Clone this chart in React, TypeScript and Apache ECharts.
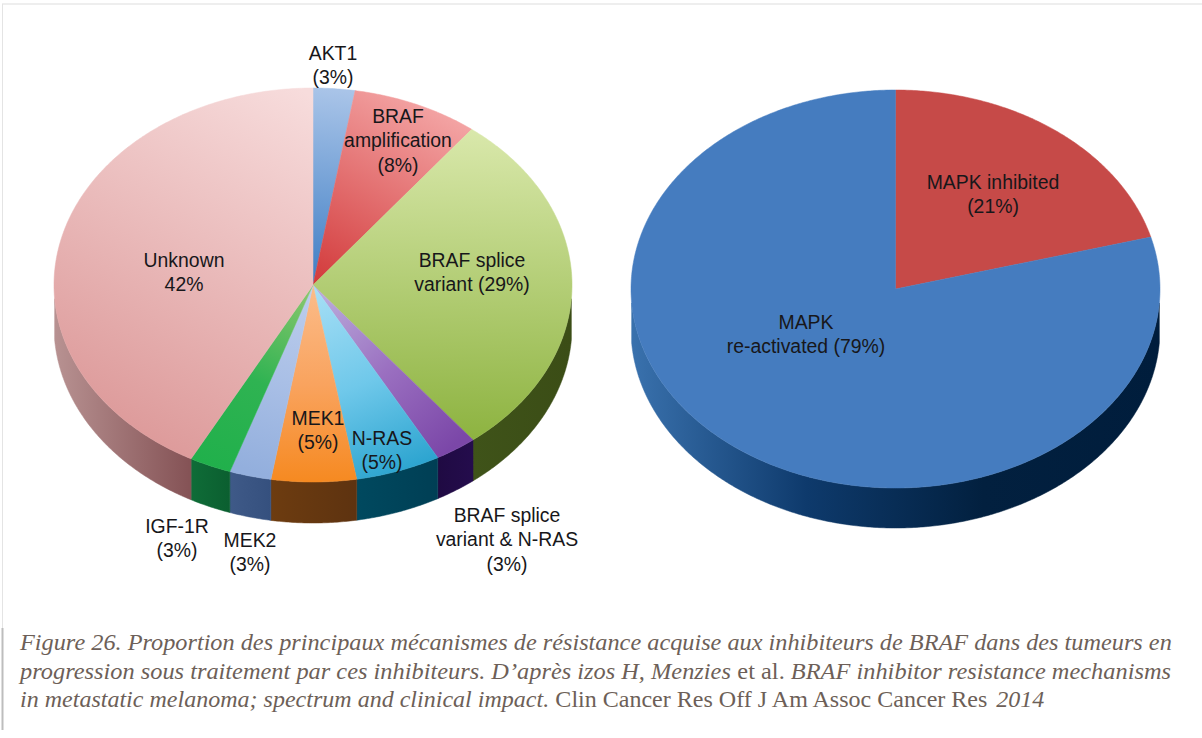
import React, { useEffect, useRef } from "react";
import * as echarts from "echarts";

const leftCategories = ["AKT1", "BRAF amplification", "BRAF splice variant", "BRAF splice variant & N-RAS", "N-RAS", "MEK1", "MEK2", "IGF-1R", "Unknown"];
const leftValues = [2.6, 7.9, 28.9, 2.6, 5.3, 5.3, 2.6, 2.6, 42.2];
const leftLabels = ["AKT1\n(3%)", "BRAF\namplification\n(8%)", "BRAF splice\nvariant (29%)", "BRAF splice\nvariant & N-RAS\n(3%)", "N-RAS\n(5%)", "MEK1\n(5%)", "MEK2\n(3%)", "IGF-1R\n(3%)", "Unknown\n42%"];
const rightCategories = ["MAPK inhibited", "MAPK re-activated"];
const rightValues = [20.8, 79.2];
const rightLabels = ["MAPK inhibited\n(21%)", "MAPK\nre-activated (79%)"];

const leftLabelPos = [[333, 65], [398, 140], [472, 272], [507, 539], [382, 450], [318, 430], [250, 552], [177, 538], [184, 272]];
const rightLabelPos = [[993, 194], [806, 334]];

type Geo = { cx: number; cy: number; rx: number; ry: number; d: number };
const leftGeo: Geo = { cx: 313, cy: 285, rx: 259, ry: 197, d: 41 };
const rightGeo: Geo = { cx: 895.5, cy: 289, rx: 264.5, ry: 199, d: 40 };

// gradient: [x, y, x2, y2, stops...] in page coordinates
const leftTop: any[] = [
  [313, 285, 333, 90, "#3d7dc4", "#a9c4e8"],
  [313, 285, 420, 100, "#d2393a", "#f3a3a3"],
  [480, 130, 470, 440, "#d9e8ab", "#8db340"],
  [330, 290, 460, 440, "#b9a9da", "#9a6fc0", "#7b47a8"],
  [320, 290, 400, 480, "#a5def5", "#6fc8ea", "#28a2ce"],
  [313, 290, 313, 480, "#fbbb88", "#f9a35e", "#f68a22"],
  [305, 290, 250, 470, "#bccdec", "#a9bfe6", "#93afdd"],
  [300, 290, 210, 470, "#86c66c", "#2fb352", "#20b04b"],
  [310, 95, 120, 430, "#f7dcdc", "#dd9a9a"],
];
const leftWall: any[] = [
  [0, 0, 1, 0, "#000", "#000"],
  [0, 0, 1, 0, "#000", "#000"],
  [472, 0, 572, 0, "#3f5319", "#3b4d16"],
  [436, 0, 472, 0, "#1f0a42", "#240c4c"],
  [355, 0, 436, 0, "#00495f", "#003f55"],
  [271, 0, 355, 0, "#6d3c10", "#5e3310"],
  [229, 0, 271, 0, "#3f5a88", "#35507e"],
  [189, 0, 229, 0, "#0f6d38", "#0b5f30"],
  [54, 0, 189, 0, "#b89292", "#855356"],
];
const rightTop: any[] = [
  [895, 90, 1150, 288, "#c64a48", "#c64a48"],
  [631, 90, 1160, 488, "#457cbf", "#457cbf"],
];
const rightWall: any[] = [
  [0, 0, 1, 0, "#000", "#000"],
  [630, 0, 1160, 0, "#3a72ae", "#0e3a6c", "#02203f", "#001d3c"],
];

const caption = [
  { y: 643, sx: 1.056, parts: "{i|Figure 26. Proportion des principaux mécanismes de résistance acquise aux inhibiteurs de BRAF dans des tumeurs en}" },
  { y: 672, sx: 1.06, parts: "{i|progression sous traitement par ces inhibiteurs. D’après izos H, Menzies }{r|et al. }{i|BRAF inhibitor resistance mechanisms}" },
  { y: 700, sx: 1.045, parts: "{i|in metastatic melanoma; spectrum and clinical impact. }{r|Clin Cancer Res Off J Am Assoc Cancer Res }{i|2014}" },
];

function grad(g: any[]) {
  const stops = g.slice(4);
  return {
    type: "linear", global: true, x: g[0], y: g[1], x2: g[2], y2: g[3],
    colorStops: stops.map((c: string, i: number) => ({ offset: i / (stops.length - 1), color: c })),
  };
}

function cumulative(values: number[]) {
  const total = values.reduce((a, b) => a + b, 0);
  let acc = 0;
  return values.map((v, i) => {
    const s = (acc / total) * 360;
    acc += v;
    return { name: String(i), value: [s, (acc / total) * 360] };
  });
}

function pieSeries(name: string, names: string[], values: number[], geo: Geo, top: any[], wall: any[]) {
  const pt = (deg: number, dy = 0) => {
    const a = (deg * Math.PI) / 180;
    return [geo.cx + geo.rx * Math.sin(a), geo.cy - geo.ry * Math.cos(a) + dy];
  };
  const arc = (a: number, b: number, dy = 0) => {
    const pts: number[][] = [];
    const n = Math.max(2, Math.ceil((b - a) / 0.5));
    for (let i = 0; i <= n; i++) pts.push(pt(a + ((b - a) * i) / n, dy));
    return pts;
  };
  return {
    type: "custom",
    name,
    coordinateSystem: "none",
    silent: true,
    z: 2,
    data: cumulative(values).map((d, i) => ({ ...d, name: names[i] })),
    renderItem: (params: any, api: any) => {
      const s = api.value(0);
      const e = api.value(1);
      const i = params.dataIndex;
      const children: any[] = [];
      const ws = Math.max(s, 94);
      const we = Math.min(e, 266);
      if (we > ws) {
        const fill = grad(wall[i]);
        children.push({
          type: "polygon",
          shape: { points: [...arc(ws, we), ...arc(ws, we, geo.d).reverse()] },
          style: { fill, stroke: fill, lineWidth: 0.5 },
        });
      }
      const fill = grad(top[i]);
      children.push({
        type: "polygon",
        shape: { points: [[geo.cx, geo.cy], ...arc(s, e)] },
        style: { fill, stroke: fill, lineWidth: 0.5 },
      });
      return { type: "group", children };
    },
  };
}

function labelEls(texts: string[], pos: number[][]) {
  return texts.map((t, i) => ({
    type: "text",
    x: pos[i][0],
    y: pos[i][1],
    z: 100,
    silent: true,
    style: {
      text: t,
      fill: "#17171a",
      font: '19.4px "Liberation Sans", Arial, sans-serif',
      lineHeight: 24.5,
      textAlign: "center",
      textVerticalAlign: "middle",
    },
  }));
}

export default function App() {
  const ref = useRef<HTMLDivElement>(null);
  useEffect(() => {
    const chart = echarts.init(ref.current!, null, { renderer: "svg" });
    const capFont = { fontFamily: '"Liberation Serif", "Times New Roman", serif', fontSize: 23, fill: "#6d5f58", color: "#6d5f58" };
    chart.setOption({
      animation: false,
      backgroundColor: "#ffffff",
      series: [
        pieSeries("Resistance mechanisms", leftCategories, leftValues, leftGeo, leftTop, leftWall),
        pieSeries("MAPK status", rightCategories, rightValues, rightGeo, rightTop, rightWall),
      ],
      graphic: [
        { type: "line", shape: { x1: 2, y1: 4, x2: 1202, y2: 4 }, style: { stroke: "#dddddd", lineWidth: 1 }, silent: true },
        { type: "line", shape: { x1: 2.5, y1: 4, x2: 2.5, y2: 628 }, style: { stroke: "#e4e4e4", lineWidth: 1 }, silent: true },
        { type: "line", shape: { x1: 2.5, y1: 628, x2: 2.5, y2: 730 }, style: { stroke: "#bdbdbd", lineWidth: 2 }, silent: true },
        ...labelEls(leftLabels, leftLabelPos),
        ...labelEls(rightLabels, rightLabelPos),
        ...caption.map((c) => ({
          type: "text",
          x: 20,
          y: c.y - 0.5,
          z: 100,
          scaleX: c.sx,
          silent: true,
          style: {
            text: c.parts,
            textVerticalAlign: "middle",
            rich: {
              i: { ...capFont, fontStyle: "italic" },
              r: { ...capFont },
            },
          },
        })),
      ],
    });
    return () => chart.dispose();
  }, []);
  return <div ref={ref} style={{ position: "absolute", left: 0, top: 0, width: 1202, height: 738 }} />;
}
